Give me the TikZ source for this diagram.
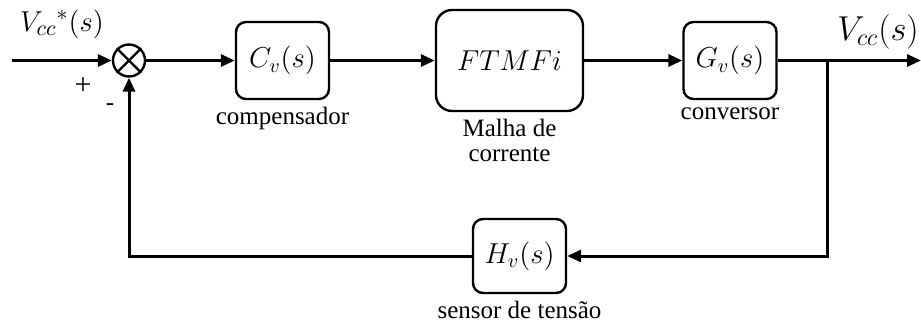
\documentclass[tikz,border=0pt]{standalone}
\usepackage{fontspec}
\setmainfont{Liberation Serif}
\usetikzlibrary{arrows.meta,positioning}
\begin{document}
\begin{tikzpicture}[x=0.5pt,y=-0.5pt,
  blk/.style={draw,line width=1.2pt,rounded corners=5pt,minimum width=46.5pt,minimum height=38.5pt,inner sep=0pt,font=\fontsize{14}{16}\selectfont},
  sig/.style={line width=1.5pt,-{Triangle[length=7pt,width=6pt]}},
  wire/.style={line width=1.5pt},
  txt/.style={font=\fontsize{12.5}{12.5}\selectfont,align=center},
  lbl/.style={font=\fontsize{17}{19}\selectfont}]
\useasboundingbox (0,0) rectangle (921,322);
% blocks
\node[circle,draw,line width=1.2pt,minimum size=16pt,inner sep=0pt] (sum) at (129,60.5) {};
\draw [line width=1.2pt] (sum.north west) -- (sum.south east);
\draw [line width=1.2pt] (sum.north east) -- (sum.south west);
\node[blk] (cv) at (282.5,60.5) {$C_v(s)$};
\node[blk,minimum width=73.5pt,minimum height=50.5pt,rounded corners=8pt] (ftm) at (509.5,60.5) {$FTMFi$};
\node[blk] (gv) at (730,60.5) {$G_v(s)$};
\node[blk,minimum height=37pt] (hv) at (519.5,256) {$H_v(s)$};
% texts under the blocks
\node[txt,below=0pt of cv] (cvtxt) {compensador};
\node[txt,below=0pt of ftm] (ftmtxt) {Malha de\\corrente};
\node[txt,below=0pt of gv] (gvtxt) {conversor};
\node[txt,below=0pt of hv] (hvtxt) {sensor de tensão};
% signals
\coordinate (in) at (12,60.5);
\coordinate (br) at (827,60.5);
\coordinate (out) at (921,60.5);
\node[lbl,font=\fontsize{15}{17}\selectfont] (ref) at (62,24) {$V_{cc}{}^{*}(s)$};
\node[lbl] (vout) at (878,32) {$V_{cc}(s)$};
\node[txt,font=\fontsize{15}{15}\selectfont] (plus) at (83,86) {+};
\node[txt] (minus) at (110,107) {-};
\draw [sig] (in) -- (sum);
\draw [sig] (sum) -- (cv);
\draw [sig] (cv) -- (ftm);
\draw [sig] (ftm) -- (gv);
\draw [wire] (gv) -- (br);
\draw [sig] (br) -- (out);
\draw [sig] (br) |- (hv);
\draw [sig] (hv) -| (sum);
\end{tikzpicture}
\end{document}
